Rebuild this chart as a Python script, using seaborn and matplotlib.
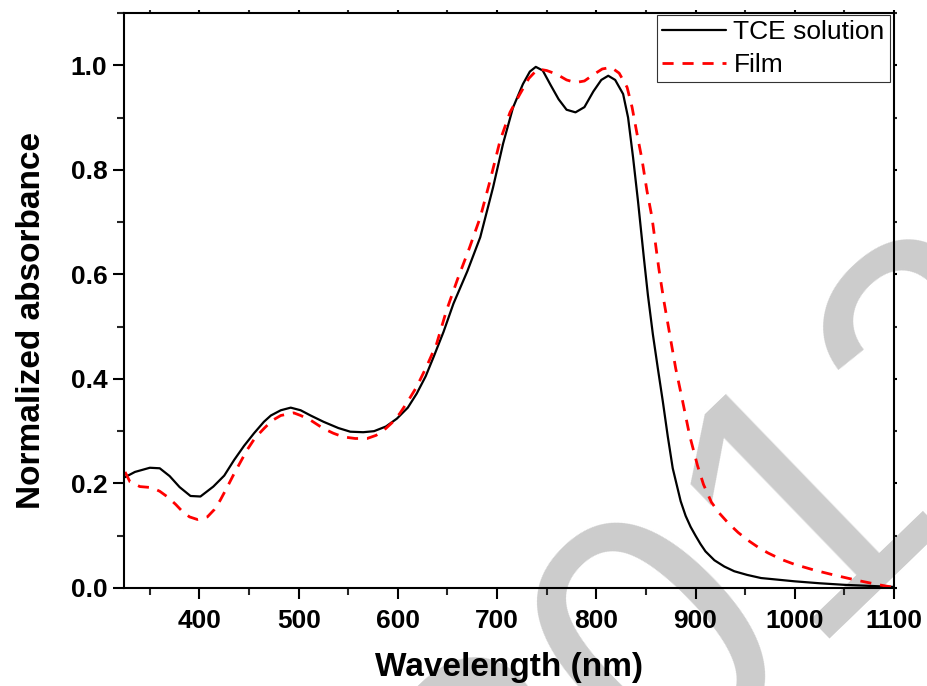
import numpy as np
import matplotlib
matplotlib.use("Agg")
import matplotlib.pyplot as plt
import seaborn as sns
from matplotlib.ticker import MultipleLocator

# TCE solution spectrum (wavelength nm, normalized absorbance)
sol_wl = [325, 335, 350, 360, 370, 380, 391, 401, 414, 425, 435, 445, 455, 465,
          472, 482, 492, 502, 512, 525, 540, 552, 565, 576, 588, 599, 610, 619,
          628, 636, 646, 656, 670, 683, 696, 706, 716, 726, 733, 739, 746, 754,
          762, 770, 779, 788, 797, 805, 812, 819, 827, 832, 837, 842, 848, 852,
          857, 862, 867, 872, 877, 885, 890, 895, 900, 905, 910, 919, 929, 939,
          952, 966, 1000, 1025, 1050, 1075, 1100]
sol_abs = [0.212, 0.222, 0.230, 0.229, 0.214, 0.193, 0.176, 0.175, 0.194, 0.215,
           0.245, 0.272, 0.296, 0.318, 0.330, 0.340, 0.345, 0.340, 0.330, 0.318,
           0.306, 0.299, 0.298, 0.300, 0.309, 0.324, 0.345, 0.372, 0.405, 0.442,
           0.490, 0.544, 0.606, 0.671, 0.767, 0.850, 0.919, 0.964, 0.988, 0.997,
           0.990, 0.962, 0.935, 0.915, 0.910, 0.920, 0.950, 0.972, 0.980, 0.972,
           0.945, 0.900, 0.824, 0.740, 0.630, 0.560, 0.485, 0.420, 0.357, 0.290,
           0.229, 0.166, 0.138, 0.117, 0.100, 0.084, 0.070, 0.053, 0.041, 0.032,
           0.025, 0.019, 0.0127, 0.009, 0.006, 0.004, 0.002]

# film spectrum
film_wl = [325, 330, 340, 352, 360, 368, 376, 383, 390, 398, 408, 415, 421, 428,
           435, 448, 456, 465, 473, 482, 495, 502, 512, 525, 535, 545, 557, 569,
           578, 586, 594, 602, 610, 619, 629, 639, 649, 660, 672, 683, 693, 703,
           713, 723, 732, 741, 750, 760, 770, 779, 788, 797, 806, 815, 823, 831,
           836, 841, 846, 851, 856, 863, 868, 874, 880, 887, 894, 902, 908, 916,
           924, 933, 943, 953, 963, 973, 986, 1000, 1020, 1039, 1055, 1067, 1085, 1100]
film_abs = [0.222, 0.203, 0.194, 0.192, 0.185, 0.174, 0.160, 0.146, 0.136, 0.131,
            0.136, 0.150, 0.168, 0.193, 0.219, 0.264, 0.287, 0.305, 0.320, 0.330,
            0.335, 0.330, 0.321, 0.305, 0.296, 0.289, 0.286, 0.286, 0.292, 0.302,
            0.316, 0.334, 0.357, 0.385, 0.424, 0.467, 0.531, 0.590, 0.650, 0.709,
            0.780, 0.856, 0.910, 0.945, 0.975, 0.993, 0.990, 0.983, 0.972, 0.967,
            0.970, 0.982, 0.993, 0.996, 0.985, 0.958, 0.920, 0.869, 0.820, 0.760,
            0.710, 0.611, 0.550, 0.485, 0.420, 0.357, 0.292, 0.234, 0.198, 0.164,
            0.143, 0.124, 0.106, 0.091, 0.078, 0.067, 0.055, 0.045, 0.034, 0.025,
            0.018, 0.013, 0.006, 0.001]

x_ticks = [400, 500, 600, 700, 800, 900, 1000, 1100]
y_ticks = [0.0, 0.2, 0.4, 0.6, 0.8, 1.0]
y_labels = ['0.0', '0.2', '0.4', '0.6', '0.8', '1.0']

sns.set_style("ticks")
plt.rcParams['font.family'] = ['Liberation Sans', 'DejaVu Sans']
plt.rcParams['text.color'] = 'black'
plt.rcParams['axes.labelcolor'] = 'black'

fig = plt.figure(figsize=(9.27, 6.86), dpi=100, facecolor='white')
ax = fig.add_axes([0.1338, 0.1429, 0.8306, 0.8381])
ax.set_facecolor('none')

# grey watermark behind the plot
fig.text(0.558, -0.345, "2012", rotation=44, rotation_mode='anchor',
         ha='left', va='baseline', fontsize=260, color='#cccccc', zorder=-5)

sns.lineplot(x=sol_wl, y=sol_abs, color='black', linewidth=1.6,
             label='TCE solution', ax=ax)
sns.lineplot(x=film_wl, y=film_abs, color='#ff0000', linewidth=2.0,
             linestyle='--', label='Film', ax=ax)
ax.lines[1].set_dashes((4, 3.2))

ax.set_xlim(324, 1100)
ax.set_ylim(0, 1.1)
ax.set_xticks(x_ticks)
ax.set_yticks(y_ticks)
ax.set_yticklabels(y_labels)
ax.xaxis.set_minor_locator(MultipleLocator(50))
ax.yaxis.set_minor_locator(MultipleLocator(0.1))

for s in ax.spines.values():
    s.set_linewidth(1.5)
    s.set_color('black')

ax.tick_params(which='major', direction='out', length=8, width=1.5,
               labelsize=19, colors='black')
ax.tick_params(axis='x', which='major', pad=7)
ax.tick_params(axis='y', which='major', pad=4)
ax.tick_params(which='minor', direction='out', length=5, width=1.5)
ax.tick_params(axis='x', which='both', top=True, labeltop=False)
ax.tick_params(axis='y', which='both', right=True, labelright=False)
for t in (ax.xaxis.get_major_ticks() + ax.xaxis.get_minor_ticks()
          + ax.yaxis.get_major_ticks() + ax.yaxis.get_minor_ticks()):
    t.tick2line.set_markersize(2)
for lbl in ax.get_xticklabels() + ax.get_yticklabels():
    lbl.set_fontweight('bold')

ax.set_xlabel('Wavelength (nm)', fontsize=24, fontweight='bold', labelpad=14,
              color='black')
ax.set_ylabel('Normalized absorbance', fontsize=24, fontweight='bold',
              color='black')
ax.yaxis.set_label_coords(-0.100, 0.466)

leg = ax.legend(loc='upper right', bbox_to_anchor=(0.9948, 0.9965),
                borderaxespad=0, fontsize=19, handlelength=2.4,
                handletextpad=0.3, labelspacing=0.32, borderpad=0.2,
                fancybox=False, frameon=True, framealpha=1)
leg.get_frame().set_edgecolor('#333333')
leg.get_frame().set_linewidth(0.8)
for txt in leg.get_texts():
    txt.set_color('black')

fig.savefig('out.png', dpi=100, facecolor='white')
